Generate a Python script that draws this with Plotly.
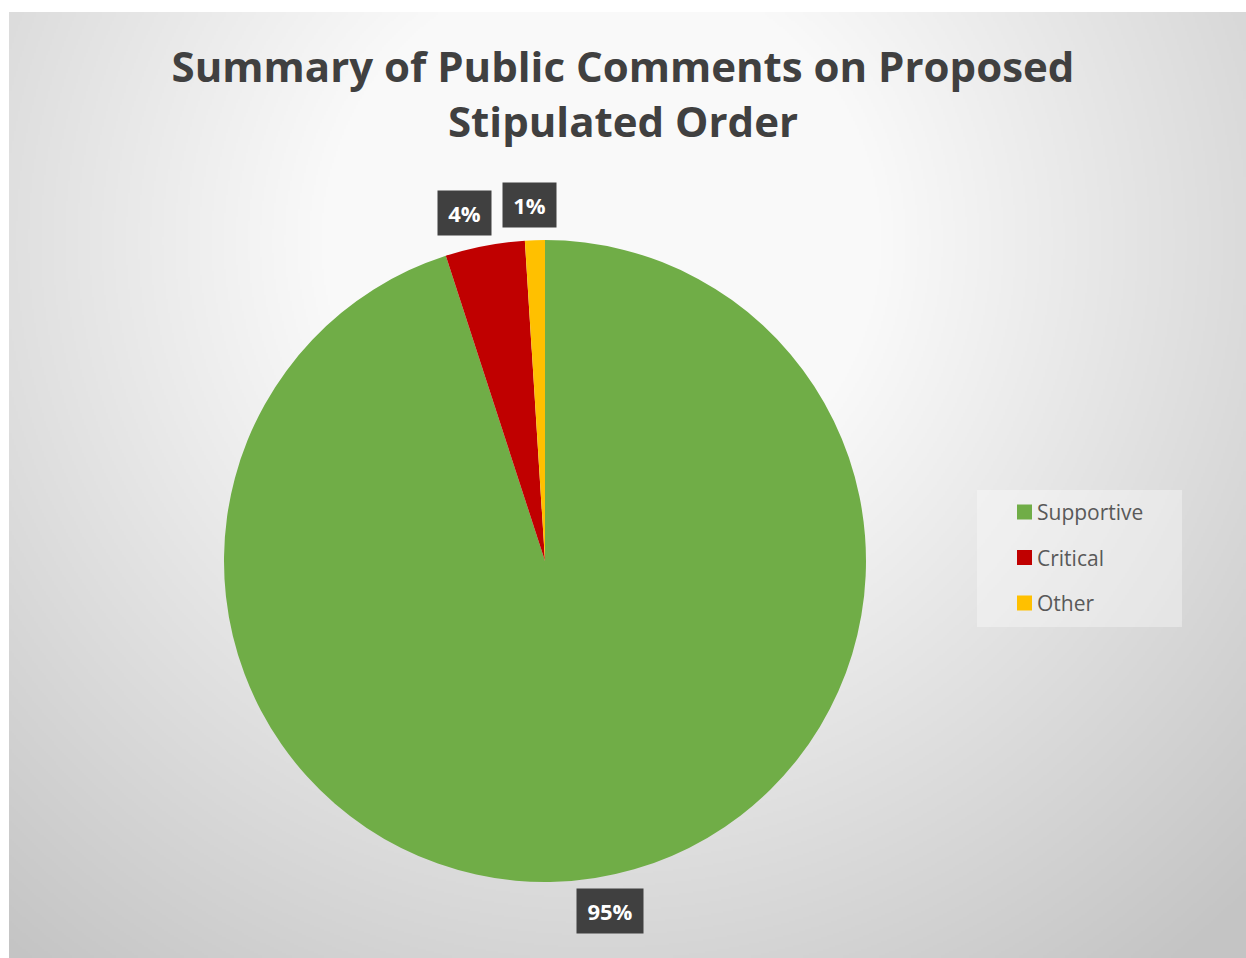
import plotly.graph_objects as go
import numpy as np
import zlib, struct, base64

# ---- data ----
labels = ["Supportive", "Critical", "Other"]
values = [95, 4, 1]
colors = ["#70AD47", "#C00000", "#FFC000"]
title_lines = ["Summary of Public Comments on Proposed", "Stipulated Order"]

W, H = 1246, 958
# pie placement in pixels
cx, cy, R = 545, 561, 321


def png_data_uri(arr):
    h, w = arr.shape
    raw = b"".join(b"\x00" + arr[i].astype(np.uint8).tobytes() for i in range(h))

    def chunk(t, d):
        c = struct.pack(">I", len(d)) + t + d
        return c + struct.pack(">I", zlib.crc32(t + d) & 0xFFFFFFFF)

    png = (b"\x89PNG\r\n\x1a\n"
           + chunk(b"IHDR", struct.pack(">IIBBBBB", w, h, 8, 0, 0, 0, 0))
           + chunk(b"IDAT", zlib.compress(raw, 9))
           + chunk(b"IEND", b""))
    return "data:image/png;base64," + base64.b64encode(png).decode()


# background radial gradient (chart area from x=9, y=12)
bx0, by0 = 9, 12
bw, bh = W - bx0, H - by0
s = 2
yy, xx = np.mgrid[0:bh // s, 0:bw // s]
px = bx0 + xx * s
py = by0 + yy * s
d = np.sqrt((px - 600.0) ** 2 + (py - 240.0) ** 2)
g = np.clip(272 - 0.082 * d, 196, 249)
bg_uri = png_data_uri(g)

fig = go.Figure()
dom_x = [(cx - R) / W, (cx + R) / W]
dom_y = [1 - (cy + R) / H, 1 - (cy - R) / H]
fig.add_trace(go.Pie(
    labels=labels, values=values, sort=False, direction="clockwise", rotation=0,
    marker=dict(colors=colors, line=dict(width=0)),
    textinfo="none", domain=dict(x=dom_x, y=dom_y), hoverinfo="label+percent",
    showlegend=False,
))

# data labels in dark boxes, placed from slice mid-angles
total = sum(values)
cum = 0
label_k, label_rot = 1.11, np.deg2rad(-1.5)
pad = 7
items = []
for lab, v in zip(labels, values):
    mid = (cum + v / 2) / total * 2 * np.pi + label_rot
    cum += v
    txt = f"{round(v / total * 100)}%"
    items.append(dict(x=cx + R * label_k * np.sin(mid),
                      y=cy - R * label_k * np.cos(mid),
                      txt=txt, w=13 * len(txt) + 13))

# simple collision spreading between neighbouring labels
gap = 12
for a in range(len(items)):
    for b in range(a + 1, len(items)):
        p, q = items[a], items[b]
        if abs(p["y"] - q["y"]) < 45:
            need = (p["w"] + q["w"]) / 2 + 2 * pad + gap
            dx = q["x"] - p["x"]
            if abs(dx) < need:
                push = (need - abs(dx)) / 2 * (1 if dx >= 0 else -1)
                q["x"] += push
                p["x"] -= push

annotations = []
for it in items:
    annotations.append(dict(
        x=it["x"] / W, y=1 - it["y"] / H, xref="paper", yref="paper", showarrow=False,
        text=it["txt"], width=it["w"], align="center",
        font=dict(family="Open Sans", size=22, color="white", weight="bold"),
        bgcolor="#404040", borderpad=pad, xanchor="center", yanchor="middle",
    ))

# legend box (drawn with shapes/annotations for Excel-like spacing)
lg_x0, lg_y0, lg_x1, lg_y1 = 977, 490, 1182, 627
item_y0, item_dy = 512, 45.5
shapes = [dict(type="rect", xref="paper", yref="paper",
               x0=lg_x0 / W, x1=lg_x1 / W, y0=1 - lg_y1 / H, y1=1 - lg_y0 / H,
               fillcolor="rgba(255,255,255,0.35)", line=dict(width=0), layer="below")]
for i, (lab, col) in enumerate(zip(labels, colors)):
    yc = item_y0 + i * item_dy
    shapes.append(dict(type="rect", xref="paper", yref="paper",
                       x0=1017 / W, x1=1032 / W, y0=1 - (yc + 7.5) / H, y1=1 - (yc - 7.5) / H,
                       fillcolor=col, line=dict(width=0)))
    annotations.append(dict(x=1035 / W, y=1 - yc / H, xref="paper", yref="paper",
                            showarrow=False, text=lab, xanchor="left", yanchor="middle",
                            font=dict(family="Open Sans", size=21, color="#595959")))

fig.update_layout(
    width=W, height=H, margin=dict(l=0, r=0, t=0, b=0),
    paper_bgcolor="white", plot_bgcolor="rgba(0,0,0,0)",
    title=dict(text="<br>".join(title_lines), x=0.5, xanchor="center",
               y=1 - 82 / H, yanchor="top",
               font=dict(family="Open Sans", size=42, color="#404040", weight="bold")),
    showlegend=False,
    images=[dict(source=bg_uri, xref="paper", yref="paper", x=bx0 / W, y=1 - by0 / H,
                 sizex=bw / W, sizey=bh / H, xanchor="left", yanchor="top",
                 sizing="stretch", layer="below")],
    shapes=shapes,
    annotations=annotations,
)

fig.write_html("out.html")
